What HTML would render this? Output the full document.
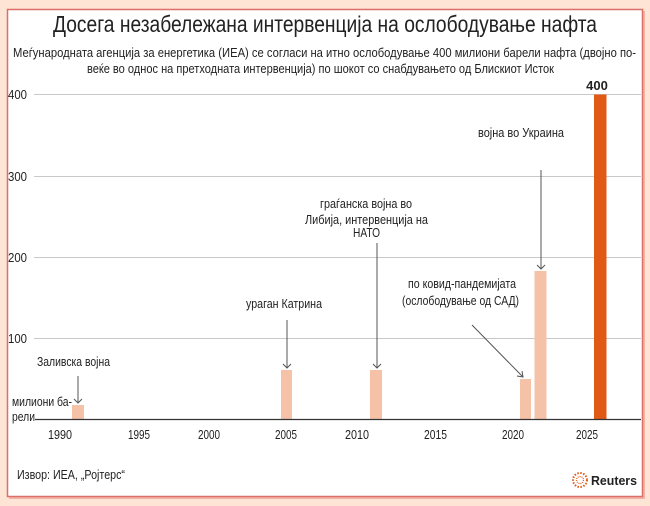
<!DOCTYPE html>
<html><head><meta charset="utf-8"><style>
html,body{margin:0;padding:0;background:#fde4d5;}
svg{display:block;}
text{font-family:"Liberation Sans",Arial,sans-serif;fill:#222;}
</style></head><body>
<svg width="650" height="506" viewBox="0 0 650 506" xmlns="http://www.w3.org/2000/svg">
<rect x="0" y="0" width="650" height="506" fill="#fde4d5"/>
<rect x="9" y="11" width="636" height="488" fill="#f4b3a8"/>
<rect x="7.5" y="9.5" width="635" height="487" fill="#ffffff" stroke="#dc6f68" stroke-width="1.5"/>
<text x="53" y="32" font-size="23" textLength="544" lengthAdjust="spacingAndGlyphs" fill="#2a2a2a">Досега незабележана интервенција на ослободување нафта</text>
<text x="13" y="57" font-size="13" textLength="623" lengthAdjust="spacingAndGlyphs">Меѓународната агенција за енергетика (ИЕА) се согласи на итно ослободување 400 милиони барели нафта (двојно по-</text>
<text x="87" y="73" font-size="13" textLength="467" lengthAdjust="spacingAndGlyphs">веќе во однос на претходната интервенција) по шокот со снабдувањето од Блискиот Исток</text>
<g stroke="#c8c8c8" stroke-width="1">
<line x1="34" y1="94.5" x2="641" y2="94.5"/>
<line x1="34" y1="176.5" x2="641" y2="176.5"/>
<line x1="34" y1="257.5" x2="641" y2="257.5"/>
<line x1="34" y1="338.5" x2="641" y2="338.5"/>
</g>
<g font-size="13">
<text x="8" y="99" textLength="19" lengthAdjust="spacingAndGlyphs">400</text>
<text x="8" y="181" textLength="19" lengthAdjust="spacingAndGlyphs">300</text>
<text x="8" y="262" textLength="19" lengthAdjust="spacingAndGlyphs">200</text>
<text x="8" y="343" textLength="19" lengthAdjust="spacingAndGlyphs">100</text>
</g>
<g fill="#f5c2a8">
<rect x="72" y="405" width="12" height="14.5"/>
<rect x="281" y="370" width="11" height="49.5"/>
<rect x="370" y="370" width="12" height="49.5"/>
<rect x="520" y="379" width="11" height="40.5"/>
<rect x="534.5" y="271" width="12" height="148.5"/>
</g>
<rect x="594" y="94.5" width="12.5" height="325" fill="#e05a16"/>
<text x="597" y="90" font-size="13" font-weight="bold" text-anchor="middle" fill="#333">400</text>
<line x1="35" y1="419.5" x2="641" y2="419.5" stroke="#333" stroke-width="1.2"/>
<g font-size="13">
<text x="48" y="439" textLength="24" lengthAdjust="spacingAndGlyphs">1990</text>
<text x="128" y="439" textLength="22" lengthAdjust="spacingAndGlyphs">1995</text>
<text x="198" y="439" textLength="22" lengthAdjust="spacingAndGlyphs">2000</text>
<text x="275" y="439" textLength="22" lengthAdjust="spacingAndGlyphs">2005</text>
<text x="345" y="439" textLength="24" lengthAdjust="spacingAndGlyphs">2010</text>
<text x="424" y="439" textLength="23" lengthAdjust="spacingAndGlyphs">2015</text>
<text x="502" y="439" textLength="22" lengthAdjust="spacingAndGlyphs">2020</text>
<text x="576" y="439" textLength="22" lengthAdjust="spacingAndGlyphs">2025</text>
</g>
<g font-size="13">
<text x="37" y="366" textLength="73" lengthAdjust="spacingAndGlyphs">Заливска војна</text>
<text x="12" y="406" textLength="60" lengthAdjust="spacingAndGlyphs">милиони ба-</text>
<text x="12" y="421" textLength="23" lengthAdjust="spacingAndGlyphs">рели</text>
<text x="246" y="308" textLength="76" lengthAdjust="spacingAndGlyphs">ураган Катрина</text>
<text x="320" y="208" textLength="92" lengthAdjust="spacingAndGlyphs">граѓанска војна во</text>
<text x="305" y="224" textLength="123" lengthAdjust="spacingAndGlyphs">Либија, интервенција на</text>
<text x="353" y="237" textLength="27" lengthAdjust="spacingAndGlyphs">НАТО</text>
<text x="478" y="137" textLength="86" lengthAdjust="spacingAndGlyphs">војна во Украина</text>
<text x="408" y="288" textLength="108" lengthAdjust="spacingAndGlyphs">по ковид-пандемијата</text>
<text x="402" y="305" textLength="117" lengthAdjust="spacingAndGlyphs">(ослободување од САД)</text>
<text x="17" y="479" textLength="108" lengthAdjust="spacingAndGlyphs">Извор: ИЕА, „Ројтерс“</text>
</g>
<g stroke="#555" stroke-width="1" fill="none">
<line x1="78" y1="376" x2="78" y2="403"/>
<polyline points="74,399 78,403 82,399"/>
<line x1="287" y1="320" x2="287" y2="368"/>
<polyline points="283,364 287,368 291,364"/>
<line x1="377" y1="243" x2="377" y2="368"/>
<polyline points="373,364 377,368 381,364"/>
<line x1="541" y1="170" x2="541" y2="269"/>
<polyline points="537,265 541,269 545,265"/>
<line x1="472" y1="325" x2="523" y2="377"/>
<polyline points="517,376 523,377 522,371"/>
</g>
<circle cx="580" cy="480" r="7" fill="none" stroke="#e05a16" stroke-width="2" stroke-dasharray="1.5 1.5"/>
<circle cx="580" cy="480" r="3.5" fill="none" stroke="#e05a16" stroke-width="1.2" stroke-dasharray="1 1"/>
<text x="591" y="485" font-size="13" font-weight="bold" fill="#333" textLength="46" lengthAdjust="spacingAndGlyphs">Reuters</text>
</svg>
</body></html>
